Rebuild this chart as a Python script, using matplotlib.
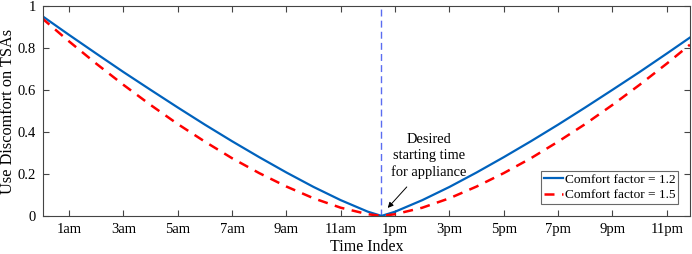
import matplotlib

matplotlib.use("Agg")
import matplotlib.pyplot as plt

plt.rcParams["font.family"] = ["Liberation Serif", "DejaVu Serif"]

# hours of day and discomfort values
hours = [0.0, 1, 2, 3, 4, 5, 6, 7, 8, 9, 10, 11, 12, 12.5,
         13, 14, 15, 16, 17, 18, 19, 20, 21, 22, 23, 23.85]
factor_12 = [0.954, 0.863, 0.774, 0.686, 0.601, 0.517, 0.435, 0.356, 0.280, 0.207,
             0.138, 0.075, 0.020, 0.0, 0.020, 0.075, 0.138, 0.207, 0.280, 0.356,
             0.435, 0.517, 0.601, 0.686, 0.774, 0.850]
factor_15 = [0.943, 0.832, 0.726, 0.625, 0.529, 0.438, 0.354, 0.275, 0.204, 0.140,
             0.084, 0.039, 0.008, 0.0, 0.008, 0.039, 0.084, 0.140, 0.204, 0.275,
             0.354, 0.438, 0.529, 0.625, 0.726, 0.816]
desired_start = 12.5
tick_hours = [1, 3, 5, 7, 9, 11, 13, 15, 17, 19, 21, 23]
tick_labels = ["1am", "3am", "5am", "7am", "9am", "11am",
               "1pm", "3pm", "5pm", "7pm", "9pm", "11pm"]

fig = plt.figure(figsize=(6.92, 2.54), dpi=100)
ax = fig.add_axes([0.062, 0.15, 0.935, 0.826])

ax.axvline(desired_start, color="#5b6cf0", linestyle=(0, (5, 3)), linewidth=1.0)
ax.plot(hours, factor_12, color="#0062bd", linewidth=1.6, label="Comfort factor = 1.2")
ax.plot(hours, factor_15, color="#ff0000", linewidth=1.8, linestyle=(0, (4, 3)),
        label="Comfort factor = 1.5")

ax.set_xlim(0.04, 23.85)
ax.set_ylim(0, 1)
ax.set_xticks(tick_hours, tick_labels)
ax.set_yticks([0, 0.2, 0.4, 0.6, 0.8, 1], ["0", "0.2", "0.4", "0.6", "0.8", "1"])
ax.tick_params(direction="in", top=True, right=True, labelsize=10.5, length=4,
               color="#444444", pad=5)
for s in ax.spines.values():
    s.set_color("#444444")
    s.set_linewidth(0.8)
ax.set_xlabel("Time Index", fontsize=11.5, labelpad=2)
ax.set_ylabel("Use Discomfort on TSAs", fontsize=11.7)
ax.yaxis.set_label_coords(-0.042, 0.5)

ax.text(14.24, 0.175, "Desired\nstarting time\nfor appliance", ha="center", va="bottom",
        fontsize=10.4, linespacing=1.3)
ax.annotate("", xy=(12.73, 0.038), xytext=(13.43, 0.138),
            arrowprops=dict(arrowstyle="-|>", color="black", lw=0.7, mutation_scale=8,
                            shrinkA=0, shrinkB=0))

leg = ax.legend(loc="lower right", fontsize=9.6, frameon=True, fancybox=False,
                edgecolor="#444444", borderpad=0.2, handlelength=1.4, handletextpad=0.15,
                labelspacing=0.25, borderaxespad=0.9)
leg.get_frame().set_linewidth(0.8)

fig.savefig("out.png", dpi=100)
